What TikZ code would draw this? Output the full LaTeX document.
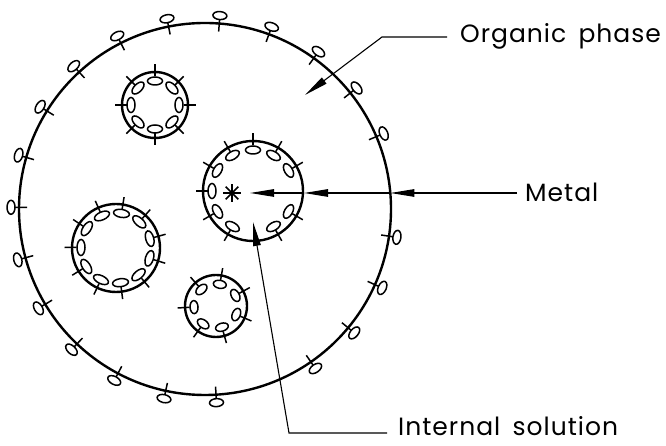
\documentclass[tikz,border=0pt]{standalone}
\usepackage{fontspec}
\newfontfamily\lblfont[LetterSpace=4,WordSpace=1.6]{Poppins}
\usetikzlibrary{arrows.meta}
% reverse micelle: #1 centre, #2 radius, #3 head half-length, #4 angles
\newcommand\rmicelle[4]{%
  \draw[shell] #1 circle[radius=#2];
  \foreach \a in {#4}{%
    \begin{scope}[shift={#1},rotate=\a]
      \draw[part] ({#2-9},0) ellipse (4 and #3);
      \draw[part] ({#2-4.5},0) -- ({#2+7.5},0);
    \end{scope}}}
\begin{document}
\begin{tikzpicture}[x=1pt,y=1pt,
  shell/.style={line width=2.4pt},
  part/.style={line width=1.5pt},
  leader/.style={line width=1.1pt},
  tipped/.style={leader,-{Triangle[length=24pt,width=7.5pt]}},
  lbl/.style={font=\lblfont\fontsize{25}{25}\selectfont, inner sep=0pt}]
\useasboundingbox (0,0) rectangle (666,446);

% organic phase droplet with surfactant heads on its outer side
\coordinate (O) at (205,237);
\draw[shell] (O) circle[radius=186];
\foreach \a in {85.6,101.3,116.9,132.6,148.2,163.9,179.5,195.2,210.8,226.5,
                242.1,257.8,273.4,304.7,320.3,336.0,351.6,22.9,38.6,54.2,69.9}{%
  \begin{scope}[shift={(O)},rotate=\a]
    \draw[part] (194,0) ellipse (4 and 7);
    \draw[part] (190,0) -- (178,0);
  \end{scope}}

% internal aqueous droplets
\rmicelle{(155,341)}{33}{7.5}{0,45,...,315}
\rmicelle{(253,255)}{50}{7.5}{30,60,90,120,150,180,210,240,300,330}
\rmicelle{(116,198)}{44}{8}{81,48.3,15.5,-17.2,-49.9,-82.6,-115.4,-148.1,-180.8,-213.6,-246.3}
\rmicelle{(216,140)}{31}{6.5}{80,131.4,182.9,234.3,285.7,337.1,28.6}

% metal species
\coordinate (S) at (232,253);
\foreach \a in {0,45,90,135}{%
  \begin{scope}[shift={(S)},rotate=\a]
    \draw[part] (-9,0) -- (9,0);
  \end{scope}}

% labels
\node[lbl, anchor=base west] (org) at (460,403) {Organic phase};
\node[lbl, anchor=west] (met) at (525,254) {Metal};
\node[lbl, anchor=base west] (int) at (398,10) {Internal solution};

% leaders
\coordinate (orgend) at (447,409);
\coordinate (orgbend) at (382,409);
\coordinate (orgtip) at (305,351);
\draw[tipped] (orgend) -- (orgbend) -- (orgtip);

\coordinate (m0) at (517,253);
\coordinate (m1) at (390.3,253);
\coordinate (m2) at (304,253);
\coordinate (m3) at (250,253);
\draw[tipped] (m0) -- (m1);
\draw[tipped] (m1) -- (m2);
\draw[tipped] (m2) -- (m3);

\coordinate (intend) at (387,13);
\coordinate (intbend) at (289,13);
\coordinate (inttip) at (253,224);
\draw[tipped] (intend) -- (intbend) -- (inttip);
\end{tikzpicture}
\end{document}
